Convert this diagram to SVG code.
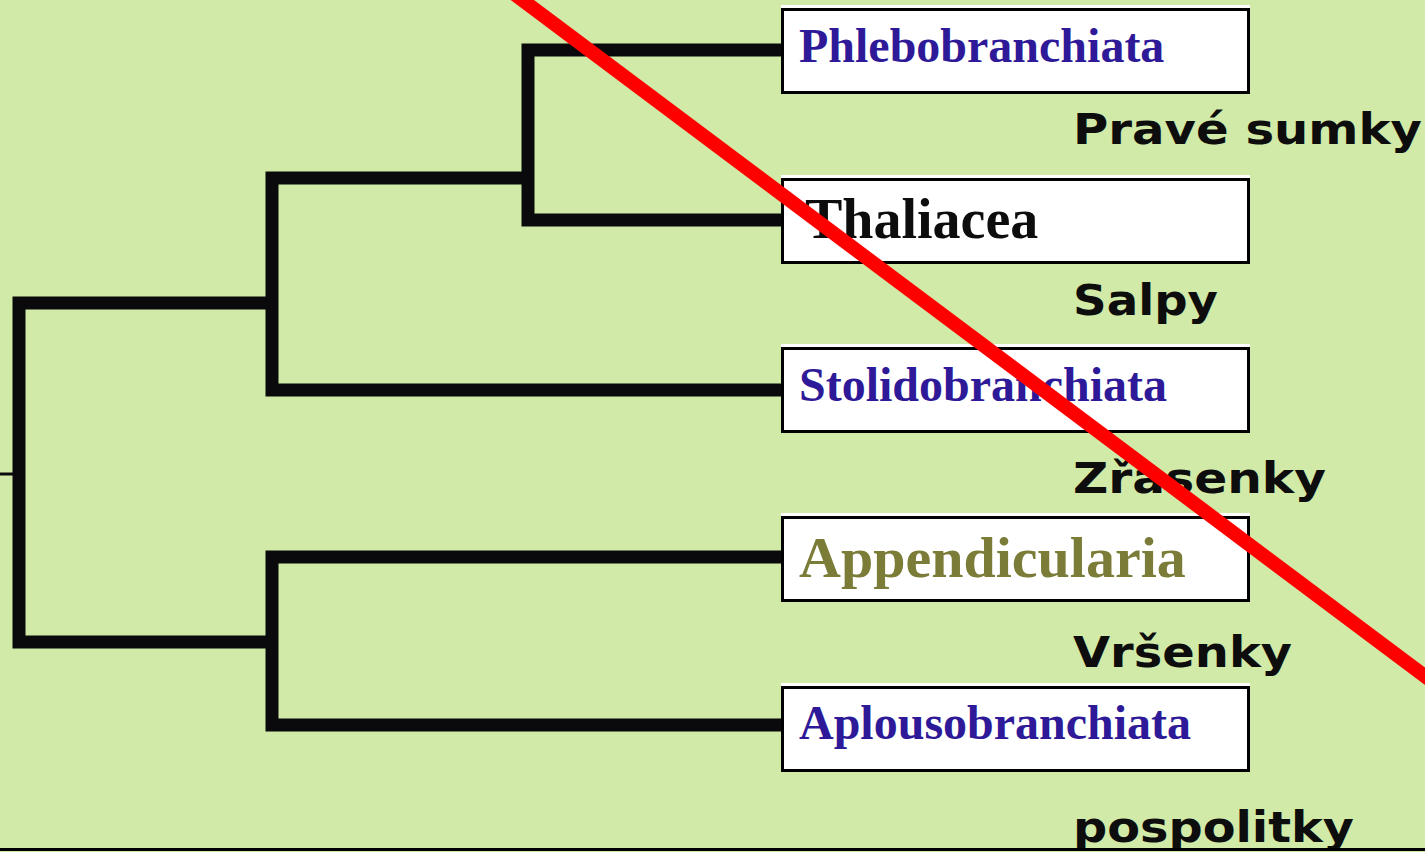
<svg xmlns="http://www.w3.org/2000/svg" width="1425" height="852" viewBox="0 0 1425 852">
  <style>
    .bg { fill: #d1eaa8; }
    .branch { fill: none; stroke: #0a0a0c; stroke-width: 13; stroke-linejoin: miter; stroke-linecap: butt; }
    .box { fill: #ffffff; stroke: #000000; stroke-width: 3; }
    .glow { fill: #ffffff; }
    .latin { font-family: "Liberation Serif", "Times New Roman", serif; font-weight: bold; }
    .blue { fill: #2e1a98; }
    .olive { fill: #7a7c38; }
    .black { fill: #0d0d0d; }
    .czech { font-family: "DejaVu Sans", Verdana, sans-serif; font-weight: bold; font-size: 42px; fill: #0d0d0d; }
  </style>
  <rect class="bg" x="0" y="0" width="1425" height="852"/>

  <g id="connectors">
    <line x1="0" y1="474" x2="13" y2="474" stroke="#0a0a0c" stroke-width="3"/>
    <path class="branch" d="M272,303 H19 V642 H272"/>
    <path class="branch" d="M528,178 H272 V390 H782"/>
    <path class="branch" d="M782,50 H528 V220 H782"/>
    <path class="branch" d="M782,557 H272 V725 H782"/>
  </g>

  <g id="node-phlebobranchiata">
    <rect class="glow" x="781" y="5" width="469" height="3"/>
    <rect class="box" x="782.5" y="9.5" width="466" height="83"/>
    <text class="latin blue" x="799" y="62" font-size="48">Phlebobranchiata</text>
    <text class="czech" x="1073" y="144" textLength="349" lengthAdjust="spacingAndGlyphs">Pravé sumky</text>
  </g>

  <g id="node-thaliacea">
    <rect class="glow" x="781" y="175" width="469" height="3"/>
    <rect class="box" x="782.5" y="179.5" width="466" height="83"/>
    <text class="latin black" x="805" y="238" font-size="56">Thaliacea</text>
    <text class="czech" x="1073" y="315" textLength="145" lengthAdjust="spacingAndGlyphs">Salpy</text>
  </g>

  <g id="node-stolidobranchiata">
    <rect class="glow" x="781" y="344" width="469" height="3"/>
    <rect class="box" x="782.5" y="348.5" width="466" height="83"/>
    <text class="latin blue" x="799" y="401" font-size="48">Stolidobranchiata</text>
    <text class="czech" x="1073" y="493" textLength="253" lengthAdjust="spacingAndGlyphs">Zřasenky</text>
  </g>

  <g id="node-appendicularia">
    <rect class="glow" x="781" y="513" width="469" height="3"/>
    <rect class="box" x="782.5" y="517.5" width="466" height="83"/>
    <text class="latin olive" x="799" y="577" font-size="58">Appendicularia</text>
    <text class="czech" x="1073" y="667" textLength="219" lengthAdjust="spacingAndGlyphs">Vršenky</text>
  </g>

  <g id="node-aplousobranchiata">
    <rect class="glow" x="781" y="683" width="469" height="3"/>
    <rect class="box" x="782.5" y="687.5" width="466" height="83"/>
    <text class="latin blue" x="799" y="739" font-size="48">Aplousobranchiata</text>
    <text class="czech" x="1073" y="842" textLength="281" lengthAdjust="spacingAndGlyphs">pospolitky</text>
  </g>

  <line x1="0" y1="849.5" x2="1425" y2="849.5" stroke="#000000" stroke-width="3"/>
  <line x1="509" y1="-10" x2="1438" y2="686" stroke="#ff0000" stroke-width="14"/>
</svg>
